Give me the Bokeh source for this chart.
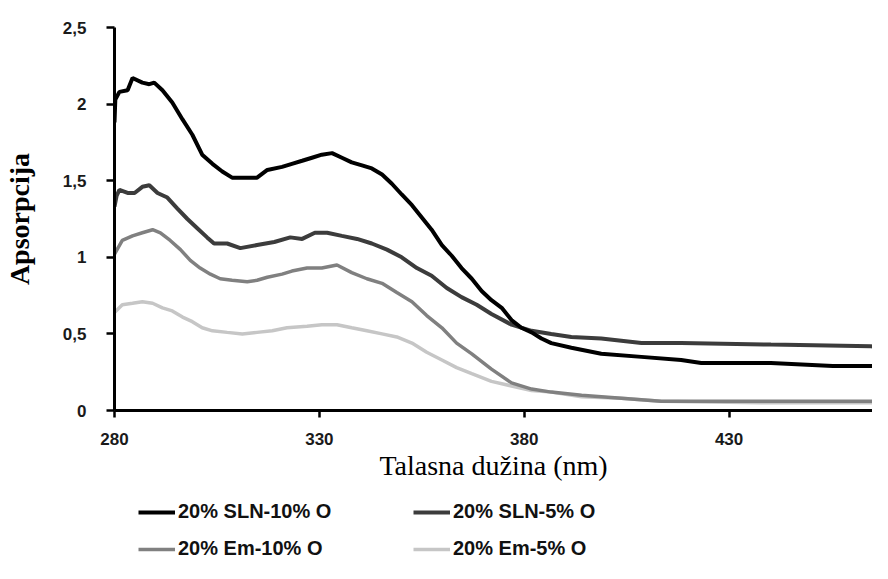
from bokeh.plotting import figure
from bokeh.layouts import column
from bokeh.models import Legend, LegendItem, FixedTicker, Range1d
from bokeh.embed import file_html
from bokeh.resources import INLINE

# --- data (wavelength in nm, absorbance) ---
x_ticks = [280, 330, 380, 430]
y_ticks = [0, 0.5, 1, 1.5, 2, 2.5]
y_tick_labels = ["0", "0,5", "1", "1,5", "2", "2,5"]

sln10_nm = [280.0, 280.2, 281.2, 283.2, 284.4, 286.8, 288.5, 289.7, 291.7, 294.1, 296.6, 299.0, 301.4,
            303.9, 306.3, 308.7, 311.2, 314.8, 317.3, 320.9, 323.3, 325.8, 328.2, 330.6, 333.1, 335.5,
            337.9, 340.4, 342.8, 345.3, 347.7, 350.1, 352.6, 355.0, 357.4, 359.9, 362.3, 364.7, 367.2,
            369.6, 372.0, 374.5, 376.9, 379.3, 381.8, 384.2, 386.6, 391.5, 398.8, 408.6, 418.3, 423.2,
            440.2, 455.3, 467.0]
sln10_val = [1.88, 2.03, 2.08, 2.09, 2.17, 2.14, 2.13, 2.14, 2.09, 2.01, 1.90, 1.80, 1.67, 1.61, 1.56,
             1.52, 1.52, 1.52, 1.57, 1.59, 1.61, 1.63, 1.65, 1.67, 1.68, 1.65, 1.62, 1.60, 1.58, 1.54,
             1.48, 1.41, 1.34, 1.26, 1.18, 1.08, 1.01, 0.93, 0.86, 0.78, 0.72, 0.67, 0.59, 0.54, 0.51,
             0.47, 0.44, 0.41, 0.37, 0.35, 0.33, 0.31, 0.31, 0.29, 0.29]

sln5_nm = [280.0, 280.5, 281.2, 283.2, 284.9, 286.8, 288.5, 290.5, 292.9, 295.3, 297.8, 300.2, 302.6,
           304.3, 307.5, 310.7, 314.8, 319.0, 322.9, 325.8, 328.9, 331.9, 335.5, 339.2, 342.8, 346.5,
           350.1, 353.8, 357.4, 361.1, 364.7, 368.4, 372.0, 376.9, 381.8, 386.6, 391.5, 398.8, 408.6,
           418.3, 440.2, 464.6, 467.0]
sln5_val = [1.33, 1.40, 1.44, 1.42, 1.42, 1.46, 1.47, 1.42, 1.39, 1.32, 1.25, 1.19, 1.13, 1.09, 1.09,
            1.06, 1.08, 1.10, 1.13, 1.12, 1.16, 1.16, 1.14, 1.12, 1.09, 1.05, 1.00, 0.93, 0.88, 0.80,
            0.74, 0.69, 0.63, 0.56, 0.52, 0.50, 0.48, 0.47, 0.44, 0.44, 0.43, 0.42, 0.40]

em10_nm = [280.0, 281.9, 284.4, 286.8, 289.3, 291.2, 293.6, 296.1, 298.5, 300.9, 303.4, 305.8, 308.7,
           312.4, 314.8, 317.3, 320.9, 323.3, 327.0, 330.6, 334.3, 337.9, 341.6, 345.3, 348.9, 352.6,
           356.2, 359.9, 363.5, 367.2, 372.0, 376.9, 381.8, 386.6, 394.0, 403.7, 413.4, 437.8, 467.0]
em10_val = [1.02, 1.11, 1.14, 1.16, 1.18, 1.16, 1.11, 1.05, 0.98, 0.93, 0.89, 0.86, 0.85, 0.84, 0.85,
            0.87, 0.89, 0.91, 0.93, 0.93, 0.95, 0.90, 0.86, 0.83, 0.77, 0.71, 0.62, 0.54, 0.44, 0.37,
            0.27, 0.18, 0.14, 0.12, 0.10, 0.08, 0.06, 0.06, 0.06]

em5_nm = [280.0, 281.9, 284.4, 286.8, 289.3, 291.7, 294.1, 296.6, 299.0, 301.4, 303.9, 307.5, 311.2,
          314.8, 318.5, 322.1, 327.0, 330.6, 334.3, 337.9, 341.6, 345.3, 348.9, 352.6, 356.2, 359.9,
          363.5, 367.2, 372.0, 376.9, 381.8, 386.6, 394.0, 403.7, 413.4, 437.8, 467.0]
em5_val = [0.64, 0.69, 0.70, 0.71, 0.70, 0.67, 0.65, 0.61, 0.58, 0.54, 0.52, 0.51, 0.50, 0.51, 0.52,
           0.54, 0.55, 0.56, 0.56, 0.54, 0.52, 0.50, 0.48, 0.44, 0.38, 0.33, 0.28, 0.24, 0.19, 0.16,
           0.13, 0.12, 0.09, 0.08, 0.06, 0.05, 0.05]

labels = ["20% SLN-10% O", "20% SLN-5% O", "20% Em-10% O", "20% Em-5% O"]
colors = ["#000000", "#3c3c3c", "#808080", "#c6c6c6"]
widths = [4, 4, 3.5, 3.5]
series_x = [sln10_nm, sln5_nm, em10_nm, em5_nm]
series_y = [sln10_val, sln5_val, em10_val, em5_val]

W = 872

# --- main chart ---
p = figure(width=W, height=485, output_backend="svg", toolbar_location=None,
           x_range=Range1d(280, 465), y_range=Range1d(0, 2.5),
           min_border_left=112, min_border_right=0, min_border_top=27, min_border_bottom=75)
p.xgrid.visible = False
p.ygrid.visible = False
p.outline_line_color = None

for i in (3, 2, 1, 0):
    p.line(series_x[i], series_y[i], line_color=colors[i], line_width=widths[i])

p.xaxis.ticker = FixedTicker(ticks=x_ticks)
p.yaxis.ticker = FixedTicker(ticks=y_ticks)
p.yaxis.major_label_overrides = {t: s for t, s in zip(y_ticks, y_tick_labels)}
for ax in (p.xaxis[0], p.yaxis[0]):
    ax.axis_line_color = "black"
    ax.axis_line_width = 3
    ax.major_tick_line_color = "black"
    ax.major_tick_line_width = 2.5
    ax.major_tick_in = 0
    ax.minor_tick_line_color = None
    ax.major_label_text_font = "Liberation Sans"
    ax.major_label_text_font_style = "bold"
    ax.major_label_text_font_size = "17px"
    ax.major_label_text_color = "#1a1a1a"
    ax.axis_label_text_font = "Liberation Serif"
    ax.axis_label_text_color = "black"

p.xaxis.major_tick_out = 7
p.xaxis.major_label_standoff = 15
p.xaxis.axis_label = "Talasna dužina (nm)"
p.xaxis.axis_label_text_font_size = "28px"
p.xaxis.axis_label_text_font_style = "normal"
p.xaxis.axis_label_standoff = 2

p.yaxis.major_tick_out = 8
p.yaxis.major_label_standoff = 20
p.yaxis.axis_label = "Apsorpcija"
p.yaxis.axis_label_text_font_size = "28px"
p.yaxis.axis_label_text_font_style = "bold"
p.yaxis.axis_label_standoff = 25

# --- legend strip below the chart (key lines drawn from the same series, outside its view) ---
q = figure(width=W, height=78, output_backend="svg", toolbar_location=None,
           x_range=Range1d(0, 1), y_range=Range1d(0, 1),
           x_axis_type=None, y_axis_type=None, min_border=0)
q.outline_line_color = None
q.grid.visible = False
keys = [q.line(series_x[i], series_y[i], line_color=colors[i], line_width=widths[i]) for i in range(4)]


def make_legend(items, loc):
    return Legend(items=items, location=loc, orientation="vertical", spacing=14, padding=0, margin=0,
                  glyph_width=37, glyph_height=20, label_height=20, label_standoff=3,
                  border_line_color=None, background_fill_alpha=0,
                  label_text_font="Liberation Sans", label_text_font_style="bold",
                  label_text_font_size="20px", label_text_color="#111111")


q.add_layout(make_legend([LegendItem(label=labels[0], renderers=[keys[0]]),
                          LegendItem(label=labels[2], renderers=[keys[2]])], (24, 3)))
q.add_layout(make_legend([LegendItem(label=labels[1], renderers=[keys[1]]),
                          LegendItem(label=labels[3], renderers=[keys[3]])], (299, 3)))

layout = column(p, q, spacing=0)
open("out.html", "w").write(file_html(layout, INLINE))
